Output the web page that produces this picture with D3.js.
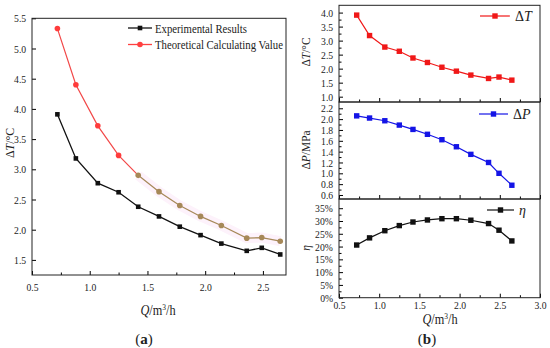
<!DOCTYPE html>
<html>
<head>
<meta charset="utf-8">
<script src="https://cdn.jsdelivr.net/npm/d3@7"></script>
<style>
  body { margin: 0; background: #fff; }
  svg, svg text { font-family: "Liberation Serif", "Tinos", "Times New Roman", "DejaVu Serif", serif !important; }
  svg text { fill: #222; }
  .tick text { transform-box: fill-box; transform-origin: center; transform: scaleX(0.88); }
  .cond { transform-box: fill-box; transform-origin: center; transform: scaleX(0.88); }
</style>
</head>
<body>
<svg id="chart" width="550" height="348"></svg>
<script>
// data
const Q      = [0.72, 0.88, 1.07, 1.25, 1.42, 1.60, 1.78, 1.96, 2.14, 2.36, 2.49, 2.65];
const dTexp  = [3.91, 3.18, 2.77, 2.62, 2.38, 2.22, 2.05, 1.91, 1.77, 1.65, 1.70, 1.59];
const dTtheo = [5.33, 4.40, 3.72, 3.23, 2.90, 2.63, 2.40, 2.22, 2.07, 1.86, 1.87, 1.81];
const dP     = [2.06, 2.02, 1.97, 1.89, 1.81, 1.72, 1.62, 1.49, 1.35, 1.20, 1.00, 0.78];
const eta    = [20.6, 23.4, 26.2, 28.2, 29.6, 30.4, 30.9, 30.9, 30.3, 29.0, 26.4, 22.2];

const xTicksA = [0.5, 1.0, 1.5, 2.0, 2.5];
const yTicksA = [1.5, 2.0, 2.5, 3.0, 3.5, 4.0, 4.5, 5.0, 5.5];
const xTicksB = [0.5, 1.0, 1.5, 2.0, 2.5, 3.0];
const yTicksT = [1.0, 1.5, 2.0, 2.5, 3.0, 3.5, 4.0];
const yTicksP = [0.6, 0.8, 1.0, 1.2, 1.4, 1.6, 1.8, 2.0, 2.2];
const yTicksE = [0, 5, 10, 15, 20, 25, 30, 35];

const legendA = ["Experimental Results", "Theoretical Calculating Value"];

let chart = d3.select("#chart");
const serif = "'Liberation Serif', 'Tinos', 'Times New Roman', 'DejaVu Serif', serif";

// midpoints between major ticks for minor ticks
function minors(ticks) {
  let m = [];
  for (let i = 0; i < ticks.length - 1; i++) m.push((ticks[i] + ticks[i + 1]) / 2);
  return m;
}

// draws one framed plot area with inward ticks
function draw_axes(g, x, y, opt) {
  let [x0, x1] = x.range(), [y1, y0] = y.range();
  if (opt.xLabels !== false) {
    g.append("g").attr("transform", `translate(0,${y1})`)
      .call(d3.axisBottom(x).tickValues(opt.xTicks).tickSize(-4).tickPadding(opt.xPad)
        .tickFormat(d3.format(".1f")))
      .call(a => a.attr("font-family", serif).select(".domain").remove())
      .selectAll("text").attr("font-size", 11);
  } else {
    g.append("g").attr("transform", `translate(0,${y1})`)
      .call(d3.axisBottom(x).tickValues(opt.xTicks).tickSize(-4).tickFormat(""))
      .call(a => a.select(".domain").remove());
  }
  g.append("g").attr("transform", `translate(0,${y1})`)
    .call(d3.axisBottom(x).tickValues(minors(opt.xTicks)).tickSize(-2.5).tickFormat(""))
    .call(a => a.select(".domain").remove());

  g.append("g").attr("transform", `translate(${x0},0)`)
    .call(d3.axisLeft(y).tickValues(opt.yTicks).tickSize(-4).tickPadding(5).tickFormat(opt.yFmt))
    .call(a => a.attr("font-family", serif).select(".domain").remove())
    .selectAll("text").attr("font-size", 11);
  if (opt.yMinor) {
    g.append("g").attr("transform", `translate(${x0},0)`)
      .call(d3.axisLeft(y).tickValues(minors(opt.yTicks)).tickSize(-2.5).tickFormat(""))
      .call(a => a.select(".domain").remove());
  }
  g.append("rect").attr("x", x0).attr("y", y0).attr("width", x1 - x0).attr("height", y1 - y0)
    .attr("fill", "none").attr("stroke", "#222").attr("stroke-width", 1);
}

function squares(g, xs, ys, x, y, color, s) {
  g.selectAll(null).data(xs).enter().append("rect")
    .attr("x", (d, i) => x(d) - s / 2).attr("y", (d, i) => y(ys[i]) - s / 2)
    .attr("width", s).attr("height", s).attr("fill", color);
}

function series_line(g, xs, ys, x, y, color, w) {
  let line = d3.line().x(d => x(d[0])).y(d => y(d[1]));
  g.append("path").datum(xs.map((d, i) => [d, ys[i]]))
    .attr("d", line).attr("fill", "none").attr("stroke", color).attr("stroke-width", w || 1.2);
}

// ---------- panel (a) ----------
let xA = d3.scaleLinear().domain([0.5, 2.7]).range([32, 286]);
let yA = d3.scaleLinear().domain([1.25, 5.5]).range([275, 18.3]);
let gA = chart.append("g");

draw_axes(gA, xA, yA, { xTicks: xTicksA, yTicks: yTicksA, xPad: 8, yFmt: d3.format(".1f"), yMinor: false });

let brownStart = 4;
let redCol = "#f24848", brownCol = "#a68858";
// faint halo behind the brown part
series_line(gA, Q.slice(brownStart), dTtheo.slice(brownStart), xA, yA, "#fdf2fb", 10);
series_line(gA, Q.slice(0, brownStart + 1), dTtheo.slice(0, brownStart + 1), xA, yA, redCol, 1.2);
series_line(gA, Q.slice(brownStart), dTtheo.slice(brownStart), xA, yA, brownCol, 1.2);
gA.selectAll(null).data(Q).enter().append("circle")
  .attr("cx", d => xA(d)).attr("cy", (d, i) => yA(dTtheo[i])).attr("r", 2.8)
  .attr("fill", (d, i) => i < brownStart ? "#ff3c3c" : brownCol);

series_line(gA, Q, dTexp, xA, yA, "#111", 1.3);
squares(gA, Q, dTexp, xA, yA, "#111", 4.6);

// legend (a)
let legA = gA.append("g");
[0, 1].forEach(i => {
  let ly = 28 + i * 16.5;
  let col = i === 0 ? "#111" : "#ff4040";
  legA.append("line").attr("x1", 128).attr("x2", 152).attr("y1", ly).attr("y2", ly)
    .attr("stroke", col).attr("stroke-width", 1.3);
  if (i === 0) legA.append("rect").attr("x", 137.7).attr("y", ly - 2.3).attr("width", 4.6).attr("height", 4.6).attr("fill", col);
  else legA.append("circle").attr("cx", 140).attr("cy", ly).attr("r", 2.8).attr("fill", col);
  legA.append("text").attr("x", 155).attr("y", ly + 4.6).attr("font-size", 13.5)
    .attr("textLength", i === 0 ? 92 : 128).attr("lengthAdjust", "spacingAndGlyphs")
    .text(legendA[i]);
});

// axis titles (a)
let tA = chart.append("g").attr("transform", "translate(14,143) rotate(-90)");
let tAt = tA.append("text").attr("class", "cond").attr("text-anchor", "middle").attr("font-size", 13.5);
tAt.append("tspan").text("\u0394");
tAt.append("tspan").attr("font-style", "italic").text("T");
tAt.append("tspan").text("/\u00b0C");

function q_title(x, y) {
  let t = chart.append("text").attr("class", "cond").attr("x", x).attr("y", y)
    .attr("text-anchor", "middle").attr("font-size", 14);
  t.append("tspan").attr("font-style", "italic").text("Q");
  t.append("tspan").text("/m");
  t.append("tspan").attr("font-size", 8.5).attr("dy", -5).text("3");
  t.append("tspan").attr("dy", 5).text("/h");
}
q_title(158, 315);

function panel_tag(x, y, letter) {
  let t = chart.append("text").attr("x", x).attr("y", y).attr("text-anchor", "middle").attr("font-size", 15);
  t.append("tspan").text("(");
  t.append("tspan").attr("font-weight", "bold").text(letter);
  t.append("tspan").text(")");
}
panel_tag(144, 344, "a");

// ---------- panel (b) ----------
let xB = d3.scaleLinear().domain([0.5, 3.0]).range([339, 540]);
let yT = d3.scaleLinear().domain([0.81, 4.26]).range([102, 5.3]);
let yP = d3.scaleLinear().domain([0.526, 2.316]).range([199, 102]);
let yE = d3.scaleLinear().domain([0, 38.6]).range([297.7, 199]);

let gT = chart.append("g"), gP = chart.append("g"), gE = chart.append("g");
draw_axes(gT, xB, yT, { xTicks: xTicksB, xLabels: false, yTicks: yTicksT, yFmt: d3.format(".1f"), yMinor: true });
draw_axes(gP, xB, yP, { xTicks: xTicksB, xLabels: false, yTicks: yTicksP, yFmt: d3.format(".1f"), yMinor: true });
draw_axes(gE, xB, yE, { xTicks: xTicksB, xPad: 4, yTicks: yTicksE, yFmt: d => d + "%", yMinor: true });

let red = "#f01818", blue = "#1414e6", black = "#111";
series_line(gT, Q, dTexp, xB, yT, red, 1.2);
squares(gT, Q, dTexp, xB, yT, red, 5.4);
series_line(gP, Q, dP, xB, yP, blue, 1.2);
squares(gP, Q, dP, xB, yP, blue, 5.4);
series_line(gE, Q, eta, xB, yE, black, 1.2);
squares(gE, Q, eta, xB, yE, black, 5.4);

// legends (b)
function legend_b(g, x1, x2, ly, col, sym, italic) {
  g.append("line").attr("x1", x1).attr("x2", x2).attr("y1", ly).attr("y2", ly).attr("stroke", col).attr("stroke-width", 1.2);
  g.append("rect").attr("x", (x1 + x2) / 2 - 2.7).attr("y", ly - 2.7).attr("width", 5.4).attr("height", 5.4).attr("fill", col);
  let t = g.append("text").attr("x", x2 + 5).attr("y", ly + 4.5).attr("font-size", 14);
  if (sym) t.append("tspan").text(sym);
  t.append("tspan").attr("font-style", "italic").text(italic);
}
legend_b(gT, 480, 510, 16, red, "\u0394", "T");
legend_b(gP, 479, 508, 114, blue, "\u0394", "P");
legend_b(gE, 487, 514, 210, black, "", "\u03b7");

// axis titles (b)
function y_title(cy, parts) {
  let g = chart.append("g").attr("transform", `translate(310,${cy}) rotate(-90)`);
  let t = g.append("text").attr("class", "cond").attr("text-anchor", "middle").attr("font-size", 13);
  parts.forEach(p => t.append("tspan").attr("font-style", p[1] ? "italic" : null).text(p[0]));
}
y_title(52, [["\u0394", 0], ["T", 1], ["/\u00b0C", 0]]);
y_title(150, [["\u0394", 0], ["P", 1], ["/MPa", 0]]);
y_title(248, [["\u03b7", 1]]);

q_title(440, 324);
panel_tag(427, 344, "b");
</script>
</body>
</html>
